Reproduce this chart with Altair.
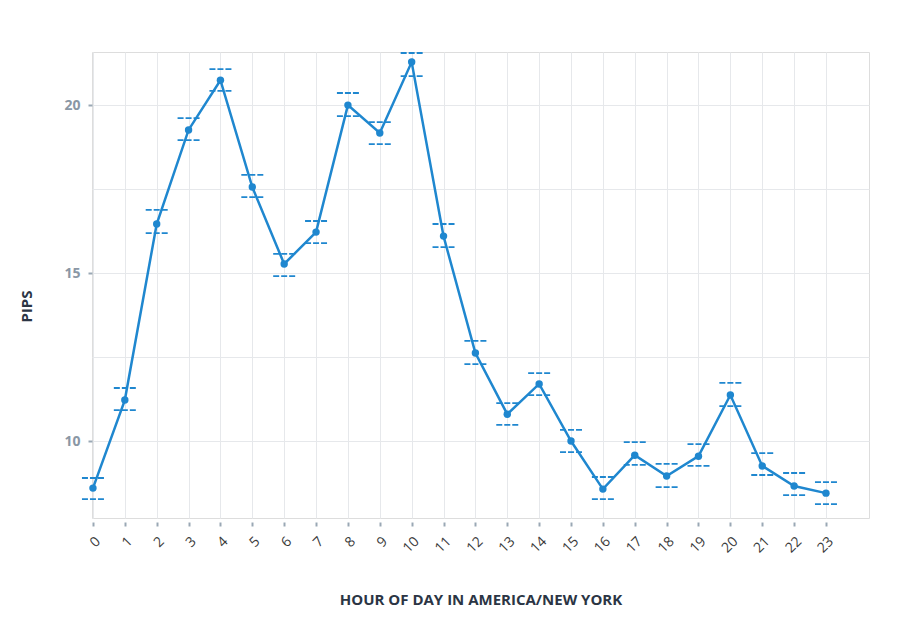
import altair as alt
import pandas as pd

hours = list(range(24))
pips = [8.60, 11.22, 16.46, 19.26, 20.74, 17.56, 15.27, 16.22, 20.00, 19.17,
        21.28, 16.10, 12.62, 10.80, 11.70, 10.00, 8.57, 9.58, 8.96, 9.55,
        11.37, 9.26, 8.66, 8.45]
upper = [8.90, 11.58, 16.88, 19.61, 21.07, 17.92, 15.57, 16.55, 20.36, 19.49,
         21.55, 16.46, 12.98, 11.13, 12.02, 10.33, 8.93, 9.97, 9.32, 9.91,
         11.73, 9.64, 9.05, 8.78]
lower = [8.27, 10.92, 16.19, 18.96, 20.42, 17.26, 14.91, 15.89, 19.67, 18.84,
         20.86, 15.77, 12.29, 10.48, 11.37, 9.67, 8.27, 9.29, 8.63, 9.26,
         11.04, 8.99, 8.39, 8.12]
y_grid_values = [10, 12.5, 15, 17.5, 20]

df = pd.DataFrame({"hour": hours, "pips": pips, "upper": upper, "lower": lower})

LINE = "#1f87cf"
FRAME = "#a9b8c7"
GRID = "#e6e8eb"

xscale = alt.Scale(domain=[-0.03, 24.35], nice=False, zero=False)
yscale = alt.Scale(domain=[7.71, 21.58], nice=False, zero=False)

x_axis = alt.Axis(
    values=hours, title="HOUR OF DAY IN AMERICA/NEW YORK",
    labelAngle=-45, labelOverlap=False, domain=False, offset=4, tickSize=4,
    tickWidth=2, tickColor="#9aa8b5", grid=True, gridColor=GRID, gridWidth=1,
    labelFont="Open Sans", labelFontSize=14, labelColor="#3a3a3a",
    labelPadding=8,
    titleFont="Open Sans", titleFontSize=15, titleFontWeight="bold",
    titleColor="#2b3544", titleY=70, titleBaseline="top",
)
y_axis = alt.Axis(
    values=y_grid_values, title="PIPS",
    labelExpr="datum.value % 5 === 0 ? datum.label : ''",
    domain=False, tickSize=4, tickWidth=2,
    tickColor={"condition": {"test": "datum.value % 5 === 0", "value": "#9aa8b5"},
               "value": "transparent"},
    grid=True, gridColor=GRID, gridWidth=1,
    labelFont="Open Sans", labelFontSize=14, labelFontWeight="bold",
    labelColor="#8a97a5", labelPadding=8,
    titleFont="Open Sans", titleFontSize=15, titleFontWeight="bold",
    titleColor="#2b3544", titleX=-58, titleY=254, titleBaseline="bottom",
)

base = alt.Chart(df)

line = base.mark_line(color=LINE, strokeWidth=2.5).encode(
    x=alt.X("hour:Q", scale=xscale, axis=x_axis),
    y=alt.Y("pips:Q", scale=yscale, axis=y_axis),
)
points = base.mark_circle(color=LINE, size=55, opacity=1).encode(
    x=alt.X("hour:Q", axis=x_axis), y=alt.Y("pips:Q", axis=y_axis)
)
bars = base.transform_calculate(
    x0="datum.hour - 0.345", x1="datum.hour + 0.345"
).transform_fold(["upper", "lower"], as_=["kind", "val"]).mark_rule(
    color=LINE, strokeWidth=1.8, strokeDash=[6, 2]
).encode(
    x=alt.X("x0:Q", axis=x_axis), x2="x1:Q", y=alt.Y("val:Q", axis=y_axis)
)

chart = alt.layer(line, bars, points).properties(
    width=777, height=466,
    autosize=alt.AutoSizeParams(type="none"),
    padding={"left": 84, "top": 44, "right": 40, "bottom": 90},
).configure_view(stroke=FRAME, strokeWidth=1.5).configure_axisX(
    labelOverlap=False
).configure(background="white")

chart.save("out.html", embed_options={"renderer": "svg", "actions": False})
